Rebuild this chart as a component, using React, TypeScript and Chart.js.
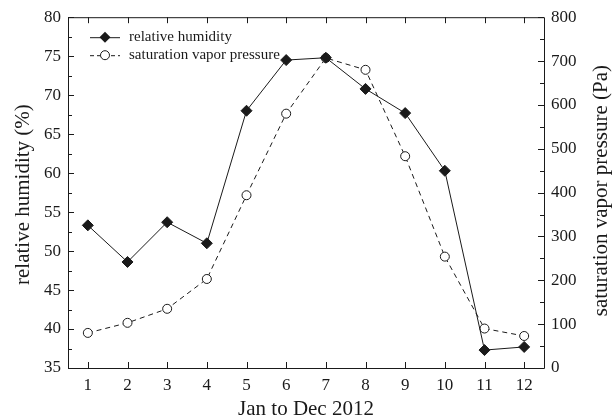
import React, { useEffect, useRef } from "react";
import { Chart, registerables } from "chart.js";
Chart.register(...registerables);

const months = [1, 2, 3, 4, 5, 6, 7, 8, 9, 10, 11, 12];
const humidity = [53.3, 48.6, 53.7, 51.0, 68.0, 74.5, 74.8, 70.8, 67.7, 60.3, 37.3, 37.7];
const vaporPressure = [80, 103, 135, 203, 394, 580, 707, 680, 483, 254, 90, 73];
const xTicks = [1, 2, 3, 4, 5, 6, 7, 8, 9, 10, 11, 12];
const leftTicks = [35, 40, 45, 50, 55, 60, 65, 70, 75, 80];
const rightTicks = [0, 100, 200, 300, 400, 500, 600, 700, 800];
const seriesNames = ["relative humidity", "saturation vapor pressure"];
const axisTitles = ["Jan to Dec 2012", "relative humidity (%)", "saturation vapor pressure (Pa)"];

const FONT = "'Liberation Serif', 'Times New Roman', serif";
const INK = "#1a1a1a";

const framePlugin = {
  id: "frame",
  afterDraw(chart: any) {
    const ctx = chart.ctx;
    const { left, right, top, bottom } = chart.chartArea;
    const xs = chart.scales.x;
    const yl = chart.scales.y;
    const yr = chart.scales.y1;
    ctx.save();
    ctx.strokeStyle = INK;
    ctx.lineWidth = 1;
    ctx.setLineDash([]);
    ctx.beginPath();
    ctx.rect(left + 0.5, top + 0.5, right - left, bottom - top);
    ctx.stroke();
    ctx.beginPath();
    for (const t of xTicks) {
      const px = Math.round(xs.getPixelForValue(t)) + 0.5;
      ctx.moveTo(px, bottom);
      ctx.lineTo(px, bottom - 6);
      ctx.moveTo(px, top);
      ctx.lineTo(px, top + 6);
    }
    for (let v = 35; v <= 80; v += 2.5) {
      const py = Math.round(yl.getPixelForValue(v)) + 0.5;
      const len = v % 5 === 0 ? 6 : 4;
      ctx.moveTo(left, py);
      ctx.lineTo(left + len, py);
    }
    for (let v = 0; v <= 800; v += 50) {
      const py = Math.round(yr.getPixelForValue(v)) + 0.5;
      const len = v % 100 === 0 ? 6 : 4;
      ctx.moveTo(right, py);
      ctx.lineTo(right - len, py);
    }
    ctx.stroke();

    // axis titles
    ctx.fillStyle = INK;
    ctx.font = `21px ${FONT}`;
    ctx.textAlign = "center";
    ctx.textBaseline = "alphabetic";
    ctx.fillText(axisTitles[0], (left + right) / 2, 415);
    ctx.save();
    ctx.translate(28.5, (top + bottom) / 2 + 2);
    ctx.rotate(-Math.PI / 2);
    ctx.fillText(axisTitles[1], 0, 0);
    ctx.restore();
    ctx.save();
    ctx.translate(607, (top + bottom) / 2 - 2);
    ctx.rotate(-Math.PI / 2);
    ctx.fillText(axisTitles[2], 0, 0);
    ctx.restore();

    // legend
    const lx0 = left + 22;
    const lx1 = left + 52;
    const rows = [top + 20, top + 38];
    ctx.font = `15px ${FONT}`;
    ctx.textBaseline = "middle";
    ctx.textAlign = "left";
    rows.forEach((ry, i) => {
      ctx.beginPath();
      ctx.setLineDash(i === 0 ? [] : [4, 3]);
      ctx.moveTo(lx0, ry + 0.5);
      ctx.lineTo(lx1, ry + 0.5);
      ctx.stroke();
      ctx.setLineDash([]);
      const cx = (lx0 + lx1) / 2;
      if (i === 0) {
        ctx.beginPath();
        ctx.moveTo(cx, ry - 5.5);
        ctx.lineTo(cx + 5.5, ry);
        ctx.lineTo(cx, ry + 5.5);
        ctx.lineTo(cx - 5.5, ry);
        ctx.closePath();
        ctx.fillStyle = INK;
        ctx.fill();
      } else {
        ctx.beginPath();
        ctx.arc(cx, ry, 4.5, 0, Math.PI * 2);
        ctx.fillStyle = "#fff";
        ctx.fill();
        ctx.stroke();
      }
      ctx.fillStyle = INK;
      ctx.fillText(seriesNames[i], lx1 + 9, ry);
    });
    ctx.restore();
  },
};

export default function App() {
  const ref = useRef<HTMLCanvasElement | null>(null);
  useEffect(() => {
    document.body.style.margin = "0";
    const canvas = ref.current!;
    const chart = new Chart(canvas, {
      type: "line",
      data: {
        datasets: [
          {
            label: seriesNames[0],
            data: months.map((m, i) => ({ x: m, y: humidity[i] })),
            yAxisID: "y",
            borderColor: INK,
            borderWidth: 1,
            pointStyle: "rectRot",
            pointRadius: 5.5,
            pointBackgroundColor: INK,
            pointBorderColor: INK,
            pointBorderWidth: 1,
            fill: false,
            tension: 0,
          },
          {
            label: seriesNames[1],
            data: months.map((m, i) => ({ x: m, y: vaporPressure[i] })),
            yAxisID: "y1",
            borderColor: INK,
            borderWidth: 1,
            borderDash: [5, 4],
            pointStyle: "circle",
            pointRadius: 4.5,
            pointBackgroundColor: "#fff",
            pointBorderColor: INK,
            pointBorderWidth: 1,
            fill: false,
            tension: 0,
          },
        ],
      },
      options: {
        animation: false,
        responsive: false,
        maintainAspectRatio: false,
        layout: { padding: { top: 17, right: 0, left: 0, bottom: 0 } },
        plugins: { legend: { display: false }, tooltip: { enabled: false } },
        scales: {
          x: {
            type: "linear",
            min: 0.5,
            max: 12.5,
            afterBuildTicks: (s: any) => {
              s.ticks = xTicks.map((v) => ({ value: v }));
            },
            afterFit: (s: any) => {
              s.height = 51;
            },
            grid: { display: false, drawTicks: false },
            border: { display: false },
            ticks: { color: INK, font: { family: FONT, size: 17 }, padding: 7, maxRotation: 0 },
            title: { display: false },
          },
          y: {
            type: "linear",
            position: "left",
            min: 35,
            max: 80,
            afterBuildTicks: (s: any) => {
              s.ticks = leftTicks.map((v) => ({ value: v }));
            },
            afterFit: (s: any) => {
              s.width = 68;
            },
            grid: { display: false, drawTicks: false },
            border: { display: false },
            ticks: { color: INK, font: { family: FONT, size: 17 }, padding: 7 },
            title: { display: false },
          },
          y1: {
            type: "linear",
            position: "right",
            min: 0,
            max: 800,
            afterBuildTicks: (s: any) => {
              s.ticks = rightTicks.map((v) => ({ value: v }));
            },
            afterFit: (s: any) => {
              s.width = 69;
            },
            grid: { display: false, drawTicks: false },
            border: { display: false },
            ticks: { color: INK, font: { family: FONT, size: 17 }, padding: 7 },
            title: { display: false },
          },
        },
      },
      plugins: [framePlugin],
    } as any);
    return () => chart.destroy();
  }, []);
  return (
    <div style={{ position: "absolute", left: 0, top: 0, width: 613, height: 419, background: "#fff" }}>
      <canvas ref={ref} width={613} height={419} style={{ display: "block", width: 613, height: 419 }} />
    </div>
  );
}
